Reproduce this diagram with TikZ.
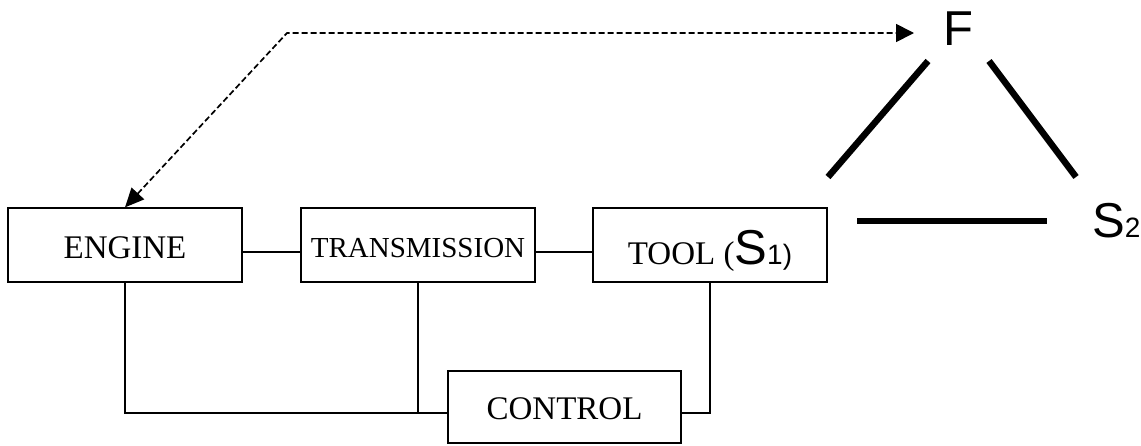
\documentclass[tikz,border=0pt]{standalone}
\usepackage{fontspec}
\setmainfont{Liberation Serif}
\newfontfamily\helv{Liberation Sans}
\usetikzlibrary{arrows.meta}
\begin{document}
\begin{tikzpicture}[x=1pt,y=-1pt,
  block/.style={draw,line width=1.3pt,minimum width=234pt,minimum height=74pt,
    inner sep=0pt,text depth=0pt,text height=26pt,font=\fontsize{33}{36}\selectfont},
  link/.style={line width=1.3pt},
  bar/.style={line width=6.5pt},
  sym/.style={inner sep=0pt,font=\helv\fontsize{49}{52}\selectfont},
  flow/.style={line width=1.7pt,dash pattern=on 6pt off 3pt,
    {Triangle[length=19pt,width=17pt]}-{Triangle[length=18pt,width=18pt]}}]
\useasboundingbox (0,0) rectangle (1141,445);

% machine blocks
\node[block] (engine) at (125,245) {ENGINE};
\node[block,text height=24pt,font=\fontsize{29}{32}\selectfont] (trans) at (418,245) {TRANSMISSION};
\node[block,text height=38pt] (tool) at (710,245)
  {TOOL ({\helv\fontsize{49}{52}\selectfont S\fontsize{28}{30}\selectfont 1)}};
\node[block,text height=24pt,minimum width=233pt,minimum height=72pt] (control) at (564.5,407) {CONTROL};

% chain links
\draw[link] ([yshift=-7pt]engine.east) -- ([yshift=-7pt]trans.west);
\draw[link] ([yshift=-7pt]trans.east) -- ([yshift=-7pt]tool.west);

% control loop
\coordinate (cw) at ([yshift=-6pt]control.west);
\coordinate (ce) at ([yshift=-6pt]control.east);
\draw[link] (engine.south) |- (cw);
\draw[link] (trans.south) -- (trans.south |- cw);
\draw[link] (tool.south) |- (ce);

% triangle F - S1 - S2
\node[sym,anchor=base] (F) at (958,45) {F};
\node[sym,anchor=base west] (S2) at (1092,237) {S\fontsize{28}{30}\selectfont 2};
\coordinate (fl) at (928,61);
\coordinate (sl) at (828,177);
\coordinate (fr) at (989,61);
\coordinate (sr) at (1076,177);
\coordinate (bl) at (857,221);
\coordinate (br) at (1047,221);
\draw[bar] (fl) -- (sl);
\draw[bar] (fr) -- (sr);
\draw[bar] (bl) -- (br);

% feedback path from the engine to F
\coordinate (bend) at (287,33);
\coordinate (fin) at (914,33);
\draw[flow] (engine.north) -- (bend) -- (fin);
\end{tikzpicture}
\end{document}
